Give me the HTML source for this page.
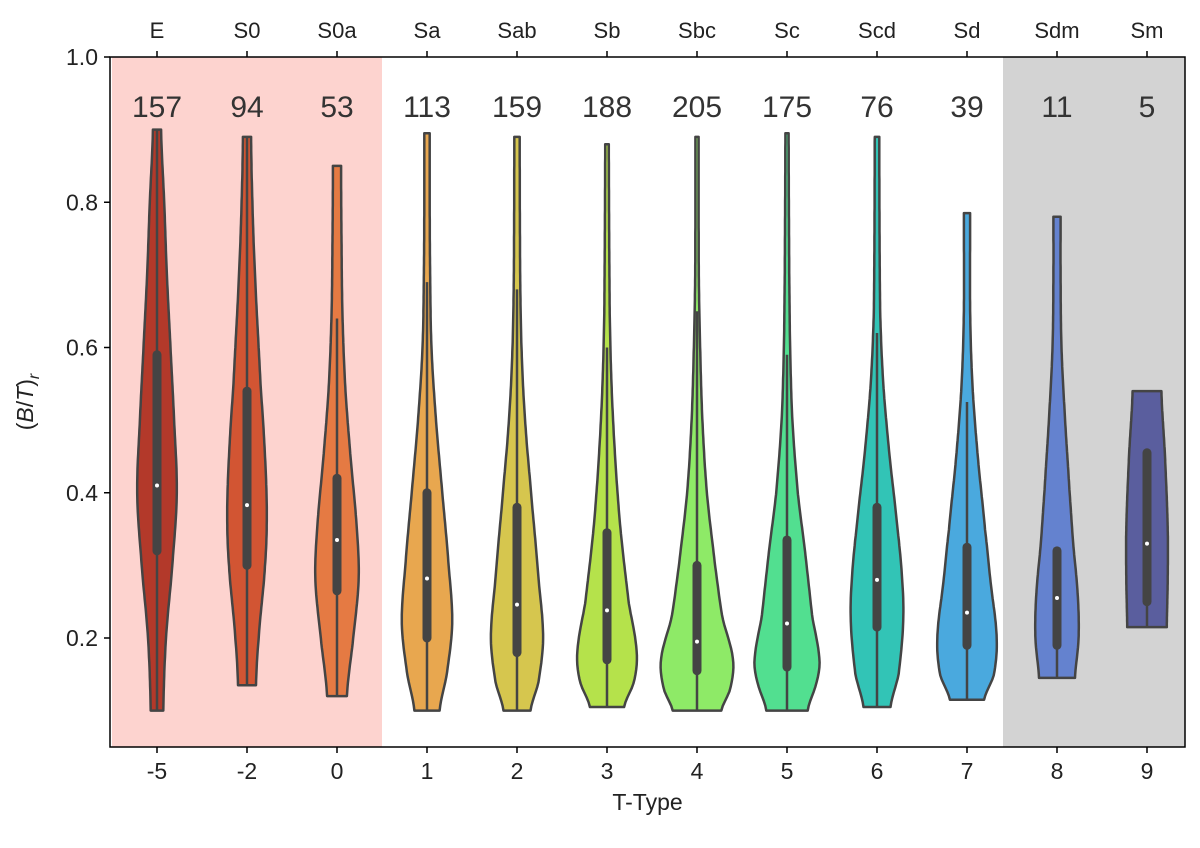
<!DOCTYPE html>
<html><head><meta charset="utf-8"><style>
body{margin:0;background:#fff}
svg text{font-family:"Liberation Sans",Arial,sans-serif;fill:#222}
</style></head><body>
<svg id="chart" width="1200" height="843" viewBox="0 0 1200 843" xmlns="http://www.w3.org/2000/svg">
<g id="bg"></g><g id="violins"></g><g id="axes"></g>
</svg>
<script>
const categories=["-5","-2","0","1","2","3","4","5","6","7","8","9"];
const typeNames=["E","S0","S0a","Sa","Sab","Sb","Sbc","Sc","Scd","Sd","Sdm","Sm"];
const counts=[157,94,53,113,159,188,205,175,76,39,11,5];
const colors=["#b3392a","#d25533","#e57a43","#e8a74f","#d6c64e","#b5e24b","#8eea67","#52df90","#32c4b6","#4aa9de","#6482cf","#5a5e9e"];
const q1=[.32,.30,.265,.20,.18,.17,.155,.16,.215,.19,.19,.25];
const medians=[.41,.383,.335,.282,.246,.238,.195,.22,.28,.235,.255,.33];
const q3=[.59,.54,.42,.40,.38,.345,.30,.335,.38,.325,.32,.455];
const whiskHi=[.90,.89,.64,.69,.68,.60,.65,.59,.62,.525,.32,.455];
const whiskLo=[.10,.135,.12,.10,.10,.105,.10,.10,.105,.115,.145,.215];
const profiles=[
[[.10,.07],[.2,.1],[.3,.17],[.4,.22],[.5,.19],[.6,.15],[.7,.11],[.8,.08],[.9,.045]],
[[.135,.1],[.2,.13],[.3,.2],[.37,.22],[.45,.2],[.55,.15],[.7,.09],[.8,.06],[.89,.045]],
[[.12,.11],[.2,.18],[.28,.24],[.35,.22],[.45,.15],[.55,.09],[.65,.06],[.75,.05],[.85,.045]],
[[.10,.14],[.15,.22],[.22,.28],[.3,.24],[.4,.17],[.5,.1],[.6,.05],[.7,.035],[.8,.03],[.895,.03]],
[[.10,.15],[.14,.24],[.2,.29],[.28,.24],[.38,.17],[.5,.09],[.6,.05],[.7,.035],[.89,.03]],
[[.105,.19],[.14,.3],[.18,.33],[.25,.24],[.35,.15],[.45,.09],[.55,.05],[.65,.03],[.88,.02]],
[[.10,.27],[.13,.37],[.17,.4],[.23,.28],[.3,.2],[.4,.11],[.5,.06],[.6,.035],[.7,.02],[.89,.018]],
[[.10,.23],[.14,.33],[.17,.36],[.23,.28],[.32,.2],[.4,.12],[.5,.06],[.6,.035],[.7,.025],[.895,.018]],
[[.105,.15],[.15,.24],[.22,.29],[.28,.28],[.36,.22],[.45,.14],[.55,.07],[.65,.035],[.89,.025]],
[[.115,.19],[.15,.3],[.2,.33],[.28,.26],[.35,.2],[.45,.12],[.55,.06],[.65,.035],[.785,.035]],
[[.145,.2],[.2,.24],[.26,.23],[.33,.18],[.4,.14],[.5,.09],[.6,.05],[.7,.04],[.78,.04]],
[[.215,.22],[.28,.23],[.35,.23],[.45,.2],[.54,.16]]
];
const yTicks=[0.2,0.4,0.6,0.8,1.0];

const L=110,R=1185,T=57,B=747,STEP=90,X0=157;
const yMin=1-(B-T)/726.25,yMax=1;
function yS(v){return T+(yMax-v)/(yMax-yMin)*(B-T);}
function xS(i){return X0+i*STEP;}
const NS="http://www.w3.org/2000/svg";
function mk(tag,attrs,parent,text){const e=document.createElementNS(NS,tag);for(const k in attrs)e.setAttribute(k,attrs[k]);if(text!==undefined)e.textContent=text;parent.appendChild(e);return e;}
const bg=document.getElementById('bg'),vg=document.getElementById('violins'),ag=document.getElementById('axes');

let r=mk('rect',{x:xS(-0.5),y:T,width:xS(2.5)-xS(-0.5),height:B-T,fill:'#fdd3cf'},bg);


r=mk('rect',{x:xS(9.4),y:T,width:R-xS(9.4),height:B-T,fill:'#d3d3d3'},bg);



function halfW(p,v){
  if(v<=p[0][0])return p[0][1];
  const n=p.length;
  for(let k=0;k<n-1;k++){
    if(v<=p[k+1][0]){
      const t=(v-p[k][0])/(p[k+1][0]-p[k][0]);
      const a=(p[k-1]||p[k])[1],b=p[k][1],c=p[k+1][1],d=(p[k+2]||p[k+1])[1];
      const t2=t*t,t3=t2*t;
      const w=0.5*((2*b)+(-a+c)*t+(2*a-5*b+4*c-d)*t2+(-a+3*b-3*c+d)*t3);
      return Math.max(w,0.012);
    }
  }
  return p[n-1][1];
}
categories.forEach((c,i)=>{
  const g=mk('g',{},vg);
  
  
  const p=profiles[i],lo=p[0][0],hi=p[p.length-1][0],cx=xS(i),N=120;
  let right=[],left=[];
  for(let k=0;k<=N;k++){const v=lo+(hi-lo)*k/N;const w=halfW(p,v)*STEP;right.push((cx+w).toFixed(1)+','+yS(v).toFixed(1));left.unshift((cx-w).toFixed(1)+','+yS(v).toFixed(1));}
  const body=mk('path',{d:'M'+right.join('L')+'L'+left.join('L')+'Z',fill:colors[i],stroke:'#444','stroke-width':2.5,'stroke-linejoin':'round'},g);
  
  
  const wl=mk('line',{x1:cx,x2:cx,y1:yS(whiskLo[i]),y2:yS(whiskHi[i]),stroke:'#444','stroke-width':2.5},g);
  
  
  const bx=mk('line',{x1:cx,x2:cx,y1:yS(q1[i]),y2:yS(q3[i]),stroke:'#444','stroke-width':9,'stroke-linecap':'round'},g);
  
  
  const md=mk('circle',{cx:cx,cy:yS(medians[i]),r:2,fill:'#fff'},g);
  
  
  const ct=mk('text',{x:cx,y:117,'text-anchor':'middle','font-size':30,style:'fill:#333'},vg,String(counts[i]));
  
  
  const tl=mk('text',{x:cx,y:779,'text-anchor':'middle','font-size':23},ag,c);
  
  
  mk('line',{x1:cx,x2:cx,y1:B,y2:B+6,stroke:'#000','stroke-width':1.5},ag);
  const tt=mk('text',{x:cx,y:38,'text-anchor':'middle','font-size':22},ag,typeNames[i]);
  
  
  mk('line',{x1:cx,x2:cx,y1:T,y2:T-6,stroke:'#000','stroke-width':1.5},ag);
});
yTicks.forEach(v=>{
  mk('line',{x1:L-6,x2:L,y1:yS(v),y2:yS(v),stroke:'#000','stroke-width':1.5},ag);
  const t=mk('text',{x:L-12,y:yS(v)+8,'text-anchor':'end','font-size':23},ag,v.toFixed(1));
  
  
});
const fr=mk('rect',{x:L,y:T,width:R-L,height:B-T,fill:'none',stroke:'#000','stroke-width':1.5},ag);


const xt=mk('text',{x:(L+R)/2,y:810,'text-anchor':'middle','font-size':23},ag,'T-Type');


const yt=mk('text',{transform:'translate(33,'+(T+B)/2+') rotate(-90)','text-anchor':'middle','font-size':23},ag);


yt.innerHTML='(<tspan font-style="italic">B</tspan>/<tspan font-style="italic">T</tspan>)<tspan font-style="italic" font-size="16" dy="6">r</tspan>';
</script>
</body></html>
